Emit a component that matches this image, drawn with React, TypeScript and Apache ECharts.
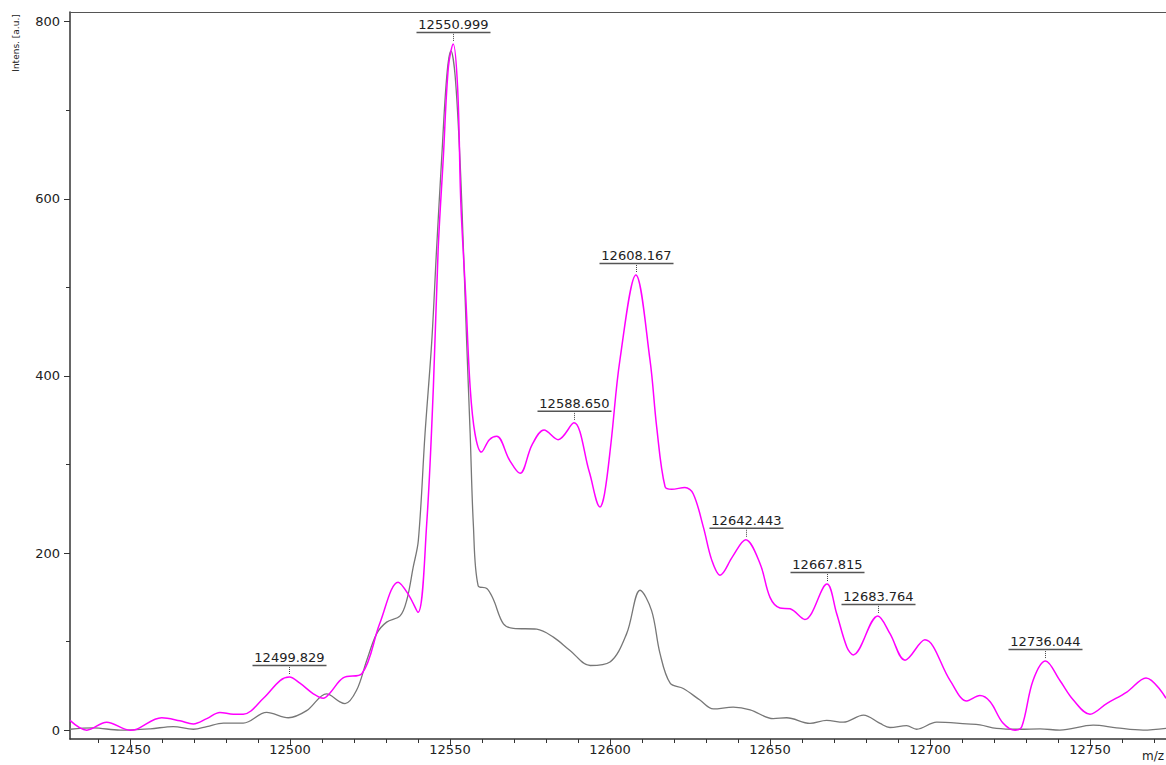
import React, { useEffect, useRef } from "react";
import * as echarts from "echarts";

// Magenta trace (m/z, intensity)
const magentaMz = [
  12431.25, 12436.5, 12442.7, 12450.0, 12452.1, 12459.9, 12465.6, 12469.8, 12474.0, 12478.1,
  12482.3, 12485.4, 12491.7, 12496.9, 12499.8, 12503.1, 12507.3, 12510.4, 12512.5, 12516.6,
  12522.5, 12528.1, 12533.8, 12537.2, 12540.0, 12542.7, 12544.8, 12546.3, 12547.9, 12549.5,
  12551.0, 12552.4, 12553.4, 12554.9, 12556.3, 12557.8, 12559.8, 12562.3, 12564.6, 12568.6,
  12571.9, 12575.6, 12579.4, 12583.8, 12588.7, 12593.5, 12596.9, 12598.3, 12600.3, 12603.1,
  12608.1, 12612.5, 12614.6, 12617.2, 12619.3, 12623.4, 12626.0, 12629.2, 12631.8, 12634.4,
  12638.3, 12642.4, 12646.9, 12650.0, 12653.1, 12656.3, 12660.9, 12667.8, 12670.8, 12674.0,
  12676.0, 12683.7, 12687.5, 12692.2, 12698.4, 12706.3, 12711.5, 12715.6, 12718.8, 12722.8,
  12726.6, 12728.7, 12732.2, 12736.1, 12740.6, 12744.8, 12750.0, 12755.2, 12761.5, 12767.5,
  12773.75,
];
const magentaIntensity = [
  11, 0, 9, 0, 1, 14, 10.5, 7, 13, 20,
  18, 18, 36, 56, 60, 53, 41, 36, 42, 59,
  64, 121, 167, 152, 133, 232, 387, 543, 646, 749,
  775, 724, 594, 491, 387, 335, 314, 328, 332, 305,
  290, 322, 339, 328, 347, 292, 252, 267, 324, 418,
  514, 418, 342, 275, 272, 274, 267, 229, 192, 175,
  196, 215, 188, 150, 138, 137, 125, 165, 132, 94,
  85, 129, 109, 79, 102, 56, 33, 39, 32, 8,
  0, 4, 56, 78, 56, 34, 18, 30, 43, 59,
  36,
];

// Gray trace (m/z, intensity)
const grayMz = [
  12431.25, 12438.5, 12446.9, 12456.3, 12463.5, 12469.8, 12474.0, 12479.2, 12485.4, 12492.7,
  12499.5, 12505.2, 12511.4, 12515.6, 12517.2, 12520.8, 12524.0, 12527.1, 12530.2, 12534.4,
  12536.5, 12538.5, 12540.1, 12542.2, 12544.3, 12545.8, 12547.4, 12549.0, 12550.3, 12551.6,
  12553.1, 12554.2, 12555.2, 12556.3, 12557.3, 12558.8, 12561.5, 12563.5, 12566.7, 12569.8,
  12577.1, 12582.3, 12587.5, 12593.8, 12600.0, 12605.2, 12609.4, 12613.0, 12615.6, 12618.8,
  12622.9, 12628.1, 12632.3, 12638.5, 12643.8, 12651.0, 12655.2, 12662.5, 12667.7, 12672.9,
  12679.2, 12684.4, 12687.5, 12692.7, 12695.8, 12702.1, 12711.5, 12715.6, 12720.8, 12728.1,
  12734.4, 12740.6, 12751.0, 12758.3, 12766.6, 12773.75,
];
const grayIntensity = [
  1, 2.6, 0, 1.5, 4, 1, 4, 8, 8, 20,
  14, 22, 41, 32, 30, 45, 79, 109, 122, 129,
  147, 184, 214, 335, 439, 543, 646, 739, 767, 739,
  646, 543, 439, 335, 232, 163, 160, 148, 120, 115,
  114, 105, 90, 73, 77, 109, 158, 135, 87, 53,
  47, 34, 24, 26, 23, 13, 14, 7.6, 11, 9,
  17, 7.6, 3, 5, 1, 9, 7, 6, 2, 1,
  1.5, 0, 5.6, 2.6, 0, 2,
];

// Annotated peaks
const peakMz = [12499.829, 12550.999, 12588.65, 12608.167, 12642.443, 12667.815, 12683.764, 12736.044];
const peakIntensity = [60, 775, 347, 514, 215, 165, 129, 78];

// Ticks
const xMajorTicks = [12450, 12500, 12550, 12600, 12650, 12700, 12750];
const xMinorTicks = [
  12440, 12450, 12460, 12470, 12480, 12490, 12500, 12510, 12520, 12530, 12540, 12550,
  12560, 12570, 12580, 12590, 12600, 12610, 12620, 12630, 12640, 12650, 12660, 12670,
  12680, 12690, 12700, 12710, 12720, 12730, 12740, 12750, 12760, 12770,
];
const yMajorTicks = [0, 200, 400, 600, 800];
const yMinorTicks = [100, 300, 500, 700];

const X_MIN = 12431.25;
const X_MAX = 12773.75;
const Y_MIN = -10;
const Y_MAX = 811;
const FONT = "DejaVu Sans";

export default function App() {
  const ref = useRef<HTMLDivElement>(null);

  useEffect(() => {
    if (!ref.current) return;
    const chart = echarts.init(ref.current, undefined, { renderer: "svg" });

    const magentaData = magentaMz.map((x, i) => [x, magentaIntensity[i]]);
    const grayData = grayMz.map((x, i) => [x, grayIntensity[i]]);
    const peakData = peakMz.map((x, i) => [x, peakIntensity[i]]);

    const axisColor = "#333";

    const option: any = {
      animation: false,
      backgroundColor: "#fff",
      grid: { left: 70, right: 0, top: 12, bottom: 26, containLabel: false, show: false },
      xAxis: [
        {
          type: "value",
          min: X_MIN,
          max: X_MAX,
          position: "bottom",
          axisLine: { show: true, onZero: false, lineStyle: { color: axisColor, width: 1.5 } },
          axisTick: { show: true, length: 6, customValues: xMajorTicks, lineStyle: { color: axisColor, width: 1 } },
          axisLabel: {
            show: true,
            customValues: xMajorTicks,
            formatter: (v: number) => String(v),
            fontFamily: FONT,
            fontSize: 13,
            color: "#222",
            margin: 4,
          },
          splitLine: { show: false },
        },
        {
          type: "value",
          min: X_MIN,
          max: X_MAX,
          position: "bottom",
          axisLine: { show: false, onZero: false },
          axisTick: { show: true, length: 4, customValues: xMinorTicks, lineStyle: { color: axisColor, width: 1 } },
          axisLabel: { show: false },
          splitLine: { show: false },
        },
        {
          type: "value",
          min: X_MIN,
          max: X_MAX,
          position: "top",
          axisLine: { show: true, onZero: false, lineStyle: { color: "#555", width: 1.2 } },
          axisTick: { show: false },
          axisLabel: { show: false },
          splitLine: { show: false },
        },
      ],
      yAxis: [
        {
          type: "value",
          min: Y_MIN,
          max: Y_MAX,
          position: "left",
          axisLine: { show: true, onZero: false, lineStyle: { color: axisColor, width: 1.5 } },
          axisTick: { show: true, length: 6, customValues: yMajorTicks, lineStyle: { color: axisColor, width: 1 } },
          axisLabel: {
            show: true,
            customValues: yMajorTicks,
            formatter: (v: number) => String(v),
            fontFamily: FONT,
            fontSize: 13,
            color: "#222",
            margin: 10,
          },
          splitLine: { show: false },
        },
        {
          type: "value",
          min: Y_MIN,
          max: Y_MAX,
          position: "left",
          axisLine: { show: false, onZero: false },
          axisTick: { show: true, length: 4, customValues: yMinorTicks, lineStyle: { color: axisColor, width: 1 } },
          axisLabel: { show: false },
          splitLine: { show: false },
        },
      ],
      series: [
        {
          type: "line",
          name: "gray",
          data: grayData,
          xAxisIndex: 0,
          yAxisIndex: 0,
          showSymbol: false,
          symbol: "none",
          smooth: 0.35,
          lineStyle: { color: "#777", width: 1.3 },
          z: 2,
        },
        {
          type: "line",
          name: "magenta",
          data: magentaData,
          xAxisIndex: 0,
          yAxisIndex: 0,
          showSymbol: false,
          symbol: "none",
          smooth: 0.35,
          lineStyle: { color: "#ff00ff", width: 1.5 },
          z: 3,
        },
        {
          type: "custom",
          name: "peaks",
          data: peakData,
          xAxisIndex: 0,
          yAxisIndex: 0,
          silent: true,
          clip: false,
          z: 5,
          renderItem: (params: any, api: any) => {
            const p = api.coord([api.value(0), api.value(1)]);
            const label = peakMz[params.dataIndex].toFixed(3);
            const px = Math.round(p[0]) + 0.5;
            const py = p[1];
            return {
              type: "group",
              children: [
                {
                  type: "text",
                  x: px,
                  y: py - 13,
                  style: {
                    text: label,
                    fontFamily: FONT,
                    fontSize: 13,
                    fill: "#222",
                    align: "center",
                    verticalAlign: "bottom",
                  },
                },
                {
                  type: "line",
                  shape: { x1: px - 37, y1: py - 11.5, x2: px + 37, y2: py - 11.5 },
                  style: { stroke: "#555", lineWidth: 1.5 },
                },
                {
                  type: "line",
                  shape: { x1: px, y1: py - 10, x2: px, y2: py - 2 },
                  style: { stroke: "#444", lineWidth: 1, lineDash: [1, 1] },
                },
              ],
            };
          },
        },
      ],
      graphic: [
        {
          type: "text",
          x: 16,
          y: 43,
          rotation: Math.PI / 2,
          style: {
            text: "Intens. [a.u.]",
            fontFamily: FONT,
            fontSize: 9,
            fill: "#222",
            align: "center",
            verticalAlign: "middle",
          },
        },
        {
          type: "text",
          x: 1164,
          y: 750,
          style: {
            text: "m/z",
            fontFamily: FONT,
            fontSize: 12,
            fill: "#222",
            align: "right",
            verticalAlign: "top",
          },
        },
      ],
    };

    chart.setOption(option);
    return () => {
      chart.dispose();
    };
  }, []);

  return (
    <div
      ref={ref}
      style={{ position: "absolute", left: 0, top: 0, width: 1166, height: 765, background: "#fff" }}
    />
  );
}
